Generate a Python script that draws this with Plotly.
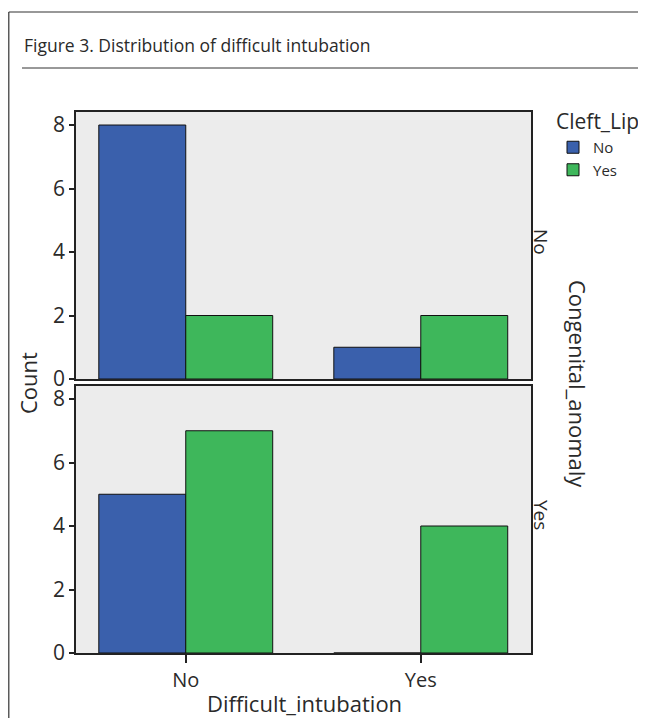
import plotly.graph_objects as go

# ---- data ----
categories = ["No", "Yes"]                 # Difficult_intubation
cleft_groups = ["No", "Yes"]               # Cleft_Lip
panel_labels = ["No", "Yes"]               # Congenital_anomaly
top_cleft_no = [8, 1]
top_cleft_yes = [2, 2]
bot_cleft_no = [5, 0]
bot_cleft_yes = [7, 4]
y_ticks = [0, 2, 4, 6, 8]

BLUE = "#3A60AC"
GREEN = "#3EB75B"
FONT = "Open Sans"
TXT = "#2a2a2a"

OFF = 8  # page body margin in the browser
W, H = 646 - 2 * OFF, 726 - 2 * OFF
# plot area in screen pixels: x 76..531, y 112..653
L, T = 76 - OFF, 112 - OFF
R, B = W - (531 - OFF), H - (653 - OFF)
pw, ph = W - L - R, H - T - B

def px_x(x):
    return (x - OFF - L) / pw

def px_y(y):
    return (H - B - (y - OFF)) / ph

fig = go.Figure()
series = [
    (top_cleft_no, cleft_groups[0], BLUE, "x", "y", True),
    (top_cleft_yes, cleft_groups[1], GREEN, "x", "y", True),
    (bot_cleft_no, cleft_groups[0], BLUE, "x2", "y2", False),
    (bot_cleft_yes, cleft_groups[1], GREEN, "x2", "y2", False),
]
for vals, name, col, xa, ya, show in series:
    fig.add_trace(go.Bar(
        x=categories, y=vals, name=name, legendgroup=name, showlegend=show,
        marker=dict(color=col, line=dict(color="#111111", width=1)),
        xaxis=xa, yaxis=ya, offsetgroup=name,
    ))

top_dom = [px_y(379), 1.0]
bot_dom = [0.0, px_y(386)]
xr = [-0.467, 1.469]
yr = [0, 8.41]

axis_common = dict(showline=True, mirror=True, linecolor="#222222", linewidth=1.5,
                   showgrid=False, zeroline=False)
tickf = dict(size=21, color=TXT)
fig.update_layout(
    width=W, height=H,
    margin=dict(l=L, r=R, t=T, b=B, autoexpand=False),
    paper_bgcolor="white", plot_bgcolor="#ECECEC",
    barmode="group", bargap=0.26, bargroupgap=0,
    font=dict(family=FONT, color=TXT, size=18),
    xaxis=dict(domain=[0, 1], range=xr, anchor="y", showticklabels=False, ticks="",
               matches="x2", **axis_common),
    yaxis=dict(domain=top_dom, range=yr, anchor="x", tickvals=y_ticks, ticks="outside",
               ticklen=5, tickcolor="#222222", tickwidth=1.5, tickfont=tickf,
               **axis_common),
    xaxis2=dict(domain=[0, 1], range=xr, anchor="y2", ticks="outside", ticklen=8,
                tickcolor="#222222", tickwidth=1.5, tickfont=dict(size=20, color=TXT),
                **axis_common),
    yaxis2=dict(domain=bot_dom, range=yr, anchor="x2", tickvals=y_ticks, ticks="outside",
                ticklen=5, tickcolor="#222222", tickwidth=1.5, tickfont=tickf,
                **axis_common),
    legend=dict(x=px_x(553), y=px_y(131), xanchor="left", yanchor="top",
                font=dict(size=15, color=TXT), bgcolor="rgba(0,0,0,0)",
                itemwidth=30, tracegroupgap=0),
    showlegend=True,
)

annotations = [
    dict(text="Figure 3. Distribution of difficult intubation", x=px_x(22), y=px_y(45),
         xanchor="left", yanchor="middle", font=dict(size=17.5, color=TXT)),
    dict(text="Cleft_Lip", x=px_x(554), y=px_y(121),
         xanchor="left", yanchor="middle", font=dict(size=21, color=TXT)),
    dict(text="Count", x=px_x(28), y=px_y(383), textangle=-90,
         xanchor="center", yanchor="middle", font=dict(size=22, color=TXT)),
    dict(text="Difficult_intubation", x=px_x(304), y=px_y(703),
         xanchor="center", yanchor="middle", font=dict(size=22, color=TXT)),
    dict(text="Congenital_anomaly", x=px_x(578), y=px_y(384), textangle=90,
         xanchor="center", yanchor="middle", font=dict(size=22, color=TXT)),
    dict(text=panel_labels[0], x=px_x(541), y=px_y(242), textangle=90,
         xanchor="center", yanchor="middle", font=dict(size=19, color=TXT)),
    dict(text=panel_labels[1], x=px_x(541), y=px_y(515), textangle=90,
         xanchor="center", yanchor="middle", font=dict(size=19, color=TXT)),
]
for a in annotations:
    a.update(xref="paper", yref="paper", showarrow=False)
fig.update_layout(annotations=annotations)

shapes = [
    dict(type="line", x0=px_x(8.8), x1=px_x(8.8), y0=px_y(12), y1=px_y(730),
         line=dict(color="#333333", width=1.2)),
    dict(type="line", x0=px_x(8.8), x1=px_x(650), y0=px_y(12), y1=px_y(12),
         line=dict(color="#333333", width=1.2)),
    dict(type="line", x0=px_x(22), x1=px_x(650), y0=px_y(68), y1=px_y(68),
         line=dict(color="#333333", width=1)),
]
for s in shapes:
    s.update(xref="paper", yref="paper")
fig.update_layout(shapes=shapes)

fig.write_html("out.html")
